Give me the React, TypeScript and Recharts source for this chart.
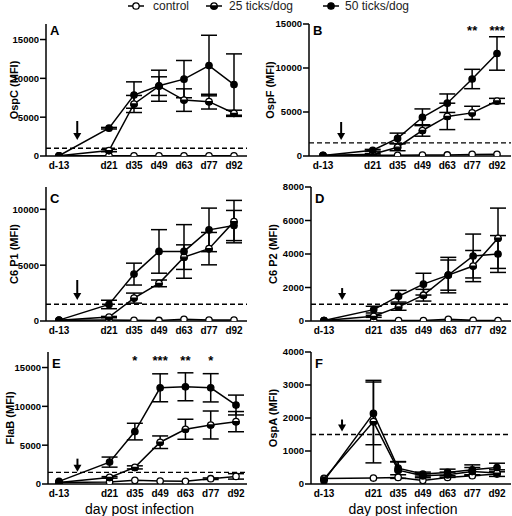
import React from 'react';
import { LineChart, Line, XAxis, YAxis, ErrorBar, ReferenceLine, ReferenceDot } from 'recharts';

const FONT = '"Liberation Sans", Arial, sans-serif';

// ---- categories ----
const days = ['d-13', 'd21', 'd35', 'd49', 'd63', 'd77', 'd92'];
const dayPos = [0, 2, 3, 4, 5, 6, 7];
const arrowDay = 0.73; // tick attachment marker position (between d-13 and d21)

// ---- A: OspC ----
const ospcCtrl = [30, 30, 30, 30, 30, 30, 30];
const ospcCtrlErr = [0, 0, 0, 0, 0, 0, 0];
const ospc25 = [30, 700, 6700, 9000, 7200, 7000, 5500];
const ospc25Err = [0, 150, 1100, 1200, 1450, 950, 400];
const ospc50 = [30, 3580, 7850, 9050, 9900, 11650, 9200];
const ospc50Err = [0, 100, 1700, 2000, 2400, 3900, 3950];
const ospcStars = ['', '', '', '', '', '', ''];

// ---- B: OspF ----
const ospfCtrl = [60, 80, 80, 100, 120, 180, 200];
const ospfCtrlErr = [0, 0, 0, 0, 0, 0, 0];
const ospf25 = [50, 200, 1000, 2900, 4500, 4900, 6250];
const ospf25Err = [0, 80, 400, 650, 1500, 750, 300];
const ospf50 = [50, 650, 2000, 4400, 6000, 8750, 11650];
const ospf50Err = [0, 100, 600, 950, 1050, 1100, 1900];
const ospfStars = ['', '', '', '', '', '**', '***'];

// ---- C: C6 P1 ----
const c6p1Ctrl = [60, 80, 60, 50, 150, 80, 80];
const c6p1CtrlErr = [0, 0, 0, 0, 0, 0, 0];
const c6p125 = [60, 350, 2050, 3370, 5720, 6480, 8900];
const c6p125Err = [0, 60, 450, 300, 1100, 1450, 1900];
const c6p150 = [80, 1480, 4200, 6230, 6230, 8160, 8550];
const c6p150Err = [0, 380, 980, 1950, 2400, 1950, 1350];
const c6p1Stars = ['', '', '', '', '', '', ''];

// ---- D: C6 P2 ----
const c6p2Ctrl = [30, 30, 30, 30, 100, 40, 30];
const c6p2CtrlErr = [0, 0, 0, 0, 0, 0, 0];
const c6p225 = [30, 280, 840, 1540, 2740, 3280, 4940];
const c6p225Err = [0, 60, 200, 350, 1060, 930, 1800];
const c6p250 = [30, 680, 1480, 2200, 2740, 3880, 4000];
const c6p250Err = [0, 200, 350, 650, 900, 1310, 1100];
const c6p2Stars = ['', '', '', '', '', '', ''];

// ---- E: FlaB ----
const flabCtrl = [200, 260, 470, 380, 340, 680, 980];
const flabCtrlErr = [0, 0, 0, 0, 0, 100, 350];
const flab25 = [200, 850, 2140, 5380, 7050, 7600, 8030];
const flab25Err = [0, 100, 200, 810, 1290, 1800, 1300];
const flab50 = [340, 2820, 6750, 12390, 12520, 12390, 10170];
const flab50Err = [0, 650, 1070, 1800, 1800, 1820, 1280];
const flabStars = ['', '', '*', '***', '**', '*', ''];

// ---- F: OspA ----
const ospaCtrl = [170, 180, 200, 110, 200, 250, 300];
const ospaCtrlErr = [0, 0, 0, 0, 0, 0, 0];
const ospa25 = [150, 1890, 420, 250, 280, 380, 330];
const ospa25Err = [0, 1250, 250, 60, 80, 120, 100];
const ospa50 = [100, 2140, 480, 300, 350, 430, 500];
const ospa50Err = [0, 950, 200, 60, 100, 150, 130];
const ospaStars = ['', '', '', '', '', '', ''];

function buildRows(c: number[], ce: number[], a: number[], ae: number[], b: number[], be: number[]) {
  return days.map((d, i) => ({
    x: dayPos[i],
    day: d,
    ctrl: c[i],
    ctrlErr: ce[i],
    t25: a[i],
    t25Err: ae[i],
    t50: b[i],
    t50Err: be[i],
  }));
}

const panels = [
  { id: 'A', yLabel: 'OspC (MFI)', left: 0, top: 0, plotLeft: 46, plotRight: 247, plotTop: 24, plotBottom: 156, x0: 59, x7: 234, yMax: 17000, yTicks: [0, 5000, 10000, 15000], cutoff: 1000, arrowTip: 2060, arrowLen: 19, starY: 0, rows: buildRows(ospcCtrl, ospcCtrlErr, ospc25, ospc25Err, ospc50, ospc50Err), stars: ospcStars, letterY: 35, yLabelX: 14, xLabel: false },
  { id: 'B', yLabel: 'OspF (MFI)', left: 256, top: 0, plotLeft: 309, plotRight: 511, plotTop: 24, plotBottom: 156, x0: 323, x7: 497, yMax: 15000, yTicks: [0, 5000, 10000, 15000], cutoff: 1500, arrowTip: 1820, arrowLen: 18, starY: 14550, rows: buildRows(ospfCtrl, ospfCtrlErr, ospf25, ospf25Err, ospf50, ospf50Err), stars: ospfStars, letterY: 35, yLabelX: 270, xLabel: false },
  { id: 'C', yLabel: 'C6 P1 (MFI)', left: 0, top: 170, plotLeft: 46, plotRight: 247, plotTop: 187, plotBottom: 321, x0: 59, x7: 234, yMax: 12000, yTicks: [0, 5000, 10000], cutoff: 1500, arrowTip: 1880, arrowLen: 20, starY: 0, rows: buildRows(c6p1Ctrl, c6p1CtrlErr, c6p125, c6p125Err, c6p150, c6p150Err), stars: c6p1Stars, letterY: 203, yLabelX: 14, xLabel: false },
  { id: 'D', yLabel: 'C6 P2 (MFI)', left: 256, top: 170, plotLeft: 311, plotRight: 511, plotTop: 187, plotBottom: 321, x0: 324, x7: 498, yMax: 8000, yTicks: [0, 2000, 4000, 6000, 8000], cutoff: 1000, arrowTip: 1250, arrowLen: 12, starY: 0, rows: buildRows(c6p2Ctrl, c6p2CtrlErr, c6p225, c6p225Err, c6p250, c6p250Err), stars: c6p2Stars, letterY: 203, yLabelX: 273, xLabel: false },
  { id: 'E', yLabel: 'FlaB (MFI)', left: 0, top: 340, plotLeft: 48, plotRight: 247, plotTop: 352, plotBottom: 484, x0: 59, x7: 236, yMax: 17000, yTicks: [0, 5000, 10000, 15000], cutoff: 1500, arrowTip: 1590, arrowLen: 13, starY: 16230, rows: buildRows(flabCtrl, flabCtrlErr, flab25, flab25Err, flab50, flab50Err), stars: flabStars, letterY: 368, yLabelX: 10, xLabel: true },
  { id: 'F', yLabel: 'OspA (MFI)', left: 256, top: 340, plotLeft: 311, plotRight: 511, plotTop: 352, plotBottom: 484, x0: 324, x7: 497, yMax: 4000, yTicks: [0, 1000, 2000, 3000, 4000], cutoff: 1500, arrowTip: 1590, arrowLen: 12, starY: 0, rows: buildRows(ospaCtrl, ospaCtrlErr, ospa25, ospa25Err, ospa50, ospa50Err), stars: ospaStars, letterY: 368, yLabelX: 273, xLabel: true },
];

const R = 3.2;

function renderDot(kind: string, p: any) {
  const { cx, cy, index } = p;
  if (cx == null || cy == null) return <g key={`n-${kind}-${index}`} />;
  if (kind === 'open') {
    return <circle key={`o-${index}`} cx={cx} cy={cy} r={R} fill="#fff" stroke="#000" strokeWidth={1.3} />;
  }
  if (kind === 'half') {
    return (
      <g key={`h-${index}`}>
        <circle cx={cx} cy={cy} r={R} fill="#fff" stroke="#000" strokeWidth={1.3} />
        <path d={`M ${cx - R} ${cy} A ${R} ${R} 0 0 0 ${cx + R} ${cy} Z`} fill="#000" stroke="#000" strokeWidth={1.3} />
      </g>
    );
  }
  return <circle key={`f-${index}`} cx={cx} cy={cy} r={R} fill="#000" stroke="#000" strokeWidth={1.3} />;
}

function arrowShape(len: number) {
  return (p: any) => {
    const { cx, cy } = p;
    return (
      <g>
        <line x1={cx} y1={cy - len} x2={cx} y2={cy - 5} stroke="#000" strokeWidth={2} />
        <polygon points={`${cx - 4},${cy - 7} ${cx + 4},${cy - 7} ${cx},${cy}`} fill="#000" />
      </g>
    );
  };
}

function starShape(text: string) {
  return (p: any) => (
    <text x={p.cx} y={p.cy + 7} textAnchor="middle" fontFamily={FONT} fontWeight="bold" fontSize={13} fill="#000">
      {text}
    </text>
  );
}

const tickStyleY = { fill: '#000', fontSize: 9.5, fontWeight: 'bold', fontFamily: FONT } as any;
const tickStyleX = { fill: '#000', fontSize: 10, fontWeight: 'bold', fontFamily: FONT } as any;

function Panel({ cfg }: { cfg: any }) {
  const width = 256;
  const xAxisH = 32;
  const height = cfg.plotBottom - cfg.top + xAxisH;
  const unit = (cfg.x7 - cfg.x0) / 7;
  const xDomain = [(cfg.plotLeft - cfg.x0) / unit, (cfg.plotRight - cfg.x0) / unit];
  return (
    <div style={{ position: 'absolute', left: cfg.left, top: cfg.top, width, height }}>
      <LineChart
        width={width}
        height={height}
        data={cfg.rows}
        margin={{ top: cfg.plotTop - cfg.top, right: cfg.left + width - cfg.plotRight, bottom: 0, left: 0 }}
      >
        <XAxis
          type="number"
          dataKey="x"
          domain={xDomain}
          allowDataOverflow
          ticks={dayPos}
          interval={0}
          tickFormatter={(v: number) => days[dayPos.indexOf(v)] ?? ''}
          height={xAxisH}
          axisLine={{ stroke: '#000', strokeWidth: 1.5 }}
          tickLine={false}
          tickSize={0}
          tickMargin={6}
          tick={tickStyleX}
        />
        <YAxis
          type="number"
          domain={[0, cfg.yMax]}
          allowDataOverflow
          ticks={cfg.yTicks}
          interval={0}
          width={cfg.plotLeft - cfg.left}
          axisLine={{ stroke: '#000', strokeWidth: 1.5 }}
          tickLine={{ stroke: '#000', strokeWidth: 1.5 }}
          tickSize={6}
          tickMargin={1}
          tick={tickStyleY}
        />
        <ReferenceLine y={cfg.cutoff} stroke="#000" strokeWidth={1.3} strokeDasharray="5 3" />
        <Line dataKey="ctrl" stroke="#000" strokeWidth={1.5} isAnimationActive={false} dot={(p: any) => renderDot('open', p)} activeDot={false}>
          <ErrorBar dataKey="ctrlErr" width={8} stroke="#000" strokeWidth={1.5} direction="y" />
        </Line>
        <Line dataKey="t25" stroke="#000" strokeWidth={1.5} isAnimationActive={false} dot={(p: any) => renderDot('half', p)} activeDot={false}>
          <ErrorBar dataKey="t25Err" width={8} stroke="#000" strokeWidth={1.5} direction="y" />
        </Line>
        <Line dataKey="t50" stroke="#000" strokeWidth={1.5} isAnimationActive={false} dot={(p: any) => renderDot('filled', p)} activeDot={false}>
          <ErrorBar dataKey="t50Err" width={8} stroke="#000" strokeWidth={1.5} direction="y" />
        </Line>
        <ReferenceDot x={arrowDay} y={cfg.arrowTip} r={0} shape={arrowShape(cfg.arrowLen)} />
        {cfg.stars.map((s: string, i: number) =>
          s ? <ReferenceDot key={`s-${i}`} x={dayPos[i]} y={cfg.starY} r={0} shape={starShape(s)} /> : null
        )}
      </LineChart>
    </div>
  );
}

const legendItems = [
  { kind: 'open', label: 'control', mx: 136, tx: 153 },
  { kind: 'half', label: '25 ticks/dog', mx: 214, tx: 229 },
  { kind: 'filled', label: '50 ticks/dog', mx: 331, tx: 345 },
];

function Overlay() {
  return (
    <svg width={512} height={516} style={{ position: 'absolute', left: 0, top: 0, pointerEvents: 'none' }}>
      {legendItems.map((it, i) => (
        <g key={i}>
          <line x1={it.mx - 8} x2={it.mx + 8} y1={6} y2={6} stroke="#000" strokeWidth={1.5} />
          {renderDot(it.kind, { cx: it.mx, cy: 6, index: i })}
          <text x={it.tx} y={6} dominantBaseline="central" fontFamily={FONT} fontSize={12} fill="#222">
            {it.label}
          </text>
        </g>
      ))}
      {panels.map((p) => (
        <g key={p.id}>
          <text x={p.plotLeft + 4} y={p.letterY} fontFamily={FONT} fontWeight="bold" fontSize={13} fill="#000">
            {p.id}
          </text>
          <text
            x={p.yLabelX}
            y={(p.plotTop + p.plotBottom) / 2}
            transform={`rotate(-90, ${p.yLabelX}, ${(p.plotTop + p.plotBottom) / 2})`}
            textAnchor="middle"
            dominantBaseline="central"
            fontFamily={FONT}
            fontWeight="bold"
            fontSize={11}
            fill="#000"
          >
            {p.yLabel}
          </text>
          {p.xLabel ? (
            <text
              x={(p.plotLeft + p.plotRight) / 2 - 8}
              y={509}
              textAnchor="middle"
              dominantBaseline="central"
              fontFamily={FONT}
              fontSize={14}
              fill="#000"
            >
              day post infection
            </text>
          ) : null}
        </g>
      ))}
    </svg>
  );
}

export default function App() {
  return (
    <div style={{ position: 'fixed', left: 0, top: 0, width: 512, height: 516, background: '#fff', overflow: 'hidden' }}>
      {panels.map((p) => (
        <Panel key={p.id} cfg={p} />
      ))}
      <Overlay />
    </div>
  );
}
